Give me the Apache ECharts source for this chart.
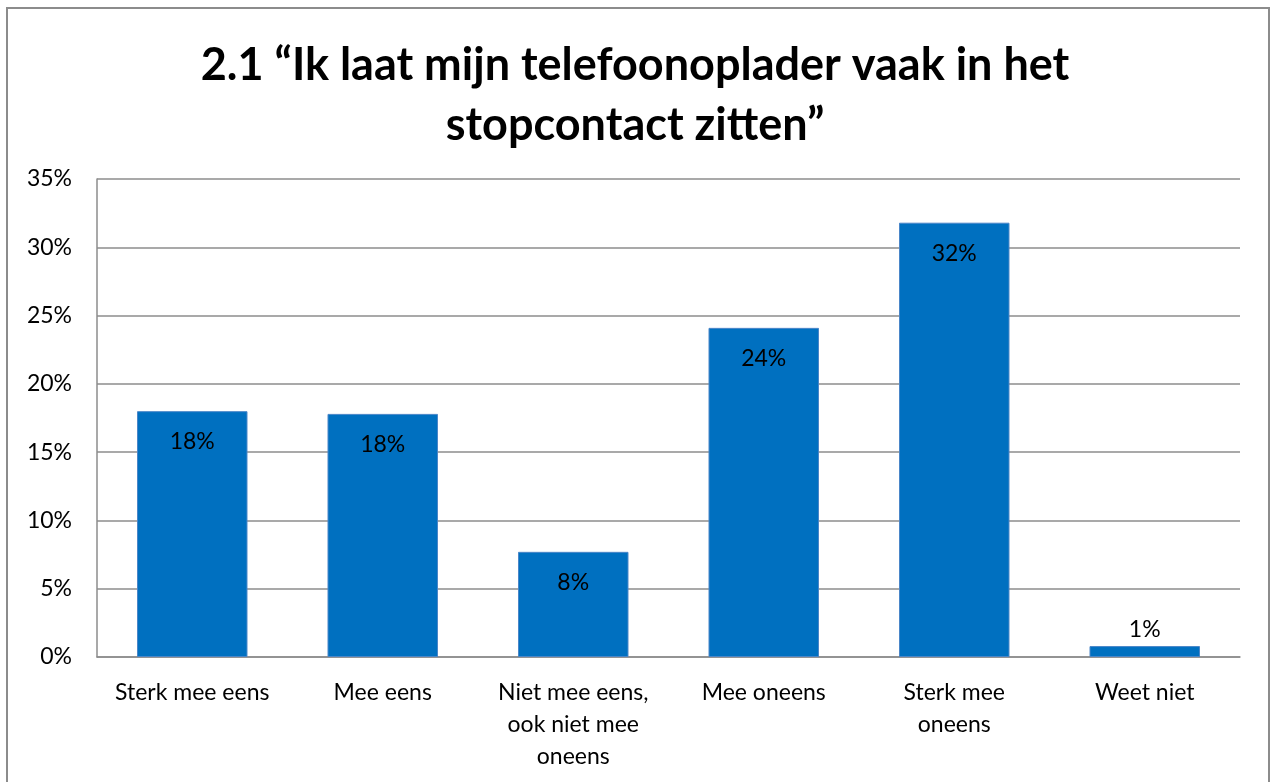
<!DOCTYPE html>
<html><head><meta charset="utf-8">
<script src="https://cdn.jsdelivr.net/npm/echarts@6/dist/echarts.min.js"></script>
<style>html,body{margin:0;padding:0;background:#fff}#c{width:1270px;height:782px}</style>
</head><body><div id="c"></div>
<script>
const titleText = '2.1 “Ik laat mijn telefoonoplader vaak in het\nstopcontact zitten”';
const categories = ['Sterk mee eens', 'Mee eens', 'Niet mee eens,\nook niet mee\noneens', 'Mee oneens', 'Sterk mee\noneens', 'Weet niet'];
const values = [18.0, 17.8, 7.7, 24.1, 31.8, 0.8];
const valueLabels = ['18%', '18%', '8%', '24%', '32%', '1%'];
const yTicks = [0, 5, 10, 15, 20, 25, 30, 35];

const font = 'Lato, "Open Sans", sans-serif';
const chart = echarts.init(document.getElementById('c'), null, {renderer: 'canvas'});
chart.setOption({
  animation: false,
  backgroundColor: '#fff',
  title: {
    text: titleText, left: 'center', top: 30,
    textStyle: {fontFamily: font, fontWeight: 'bold', fontSize: 45, lineHeight: 60, color: '#000'}
  },
  graphic: [{
    type: 'rect', shape: {x: 7, y: 8, width: 1262, height: 800},
    style: {fill: 'none', stroke: '#8c8c8c', lineWidth: 2}, silent: true
  }],
  grid: {left: 97, right: 30, top: 179, bottom: 125, containLabel: false},
  xAxis: {
    type: 'category', data: categories,
    axisLine: {lineStyle: {color: '#8c8c8c', width: 1.5}},
    axisTick: {show: false},
    axisLabel: {fontFamily: font, fontSize: 23, color: '#000', margin: 20, lineHeight: 32, interval: 0}
  },
  yAxis: {
    type: 'value', min: yTicks[0], max: yTicks[yTicks.length - 1], interval: 5,
    axisLine: {show: true, lineStyle: {color: '#8c8c8c', width: 1.5}},
    axisTick: {show: false},
    splitLine: {lineStyle: {color: '#8c8c8c', width: 1.5}},
    axisLabel: {fontFamily: font, fontSize: 23, color: '#000', margin: 25, formatter: v => v + '%'}
  },
  series: [{
    type: 'bar', barWidth: '58%',
    data: values.map((v, i) => ({
      value: v,
      label: {
        show: true,
        position: v < 3 ? 'top' : 'insideTop',
        distance: v < 3 ? 5 : 19,
        formatter: valueLabels[i],
        fontFamily: font, fontSize: 23, color: '#000'
      }
    })),
    itemStyle: {color: '#0070C0', borderColor: '#4a86c8', borderWidth: 1}
  }]
});
</script></body></html>
